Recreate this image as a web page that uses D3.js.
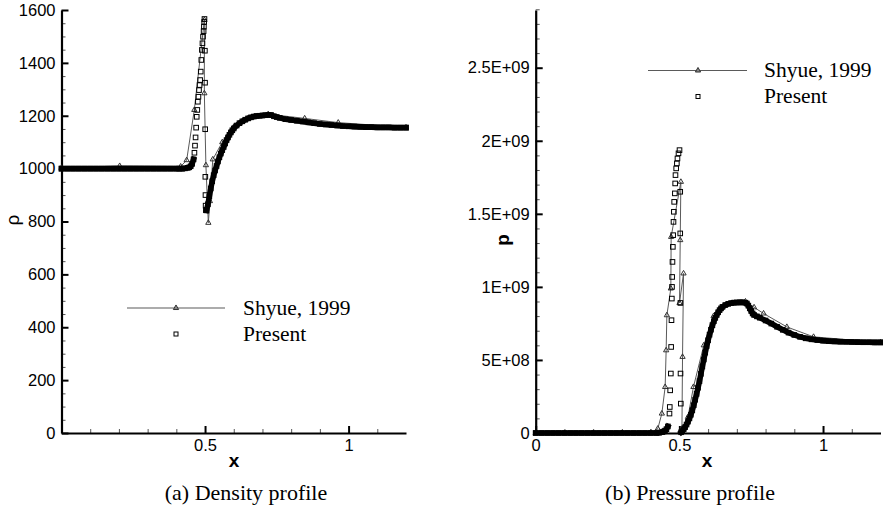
<!DOCTYPE html>
<html>
<head>
<meta charset="utf-8">
<script src="https://cdn.jsdelivr.net/npm/d3@7"></script>
<style>
body { margin: 0; background: #fff; }
svg { font-family: "Liberation Sans", Arial, sans-serif; }
</style>
</head>
<body>
<svg id="chart" width="883" height="515"></svg>
<script>
// (a) density, present scheme
var rhoPresentX = [0,0.02,0.04,0.06,0.08,0.1,0.12,0.14,0.16,0.18,0.2,0.22,0.24,0.26,0.28,0.3,0.32,0.34,0.36,0.38,0.4,
  0.41,0.42,0.43,0.44,0.445,0.45,0.455,0.46,
  0.463,0.465,0.467,0.469,0.471,0.473,0.475,0.477,0.479,0.481,0.483,0.485,0.487,0.489,0.491,0.493,0.495,0.496,0.497,0.498,
  0.4995,0.5,0.5005,0.501,0.5015,0.502,0.503,
  0.505,0.51,0.515,0.52,0.525,0.53,0.535,0.54,0.545,0.55,0.555,0.56,0.565,0.57,0.575,0.58,0.585,0.59,0.595,0.6,
  0.61,0.62,0.63,0.64,0.65,0.66,0.67,0.68,0.69,0.7,0.71,0.72,0.73,0.74,0.75,0.76,
  0.78,0.8,0.82,0.84,0.86,0.88,0.9,0.92,0.94,0.96,0.98,1,1.02,1.04,1.06,1.08,1.1,1.12,1.14,1.16,1.18,1.2];
var rhoPresent = [1000,1000,1000,1000,1000,1000,1000,1000,1000,1000,1000,1000,1000,1000,1000,1000,1000,1000,1000,1000,1000,
  1000,1000,1001,1003,1005,1009,1018,1035,
  1060,1087,1118,1155,1196,1222,1253,1272,1297,1316,1335,1367,1411,1449,1474,1499,1520,1537,1555,1566,
  1446,1325,1149,969,900,860,843,
  842,865,895,925,952,975,993,1010,1027,1043,1057,1070,1082,1095,1108,1118,1128,1137,1145,1152,
  1163,1172,1179,1185,1190,1194,1197,1199,1200,1201,1202,1203,1203,1198,1195,1192,
  1187,1184,1181,1178,1175,1172,1169,1167,1165,1163,1161,1160,1159,1158,1157,1157,1156,1156,1156,1155,1155,1155];

// (a) density, Shyue 1999
var rhoShyueX = [0,0.2027,0.415,0.436,0.4626,0.4976,0.4976,0.503,0.5115,0.517,0.527,0.56,0.6,0.65,0.72,0.847,0.964,1.2];
var rhoShyue = [1003,1010,1008,1032,1222,1562,1285,1013,795,877,1035,1100,1158,1190,1206,1190,1174,1156];

// (b) pressure, present scheme (units of 1E+09)
var pPresentX = [0,0.02,0.04,0.06,0.08,0.1,0.12,0.14,0.16,0.18,0.2,0.22,0.24,0.26,0.28,0.3,0.32,0.34,0.36,0.38,0.4,0.42,
  0.43,0.44,0.445,0.45,0.455,0.46,
  0.4656,0.4666,0.468,0.4703,0.4714,0.4726,0.4738,0.4744,0.4749,0.476,0.4773,0.4784,0.4796,0.4808,0.4819,0.4843,0.4854,0.4865,0.4889,0.4913,0.4934,0.497,0.5005,
  0.503,0.503,0.5035,0.504,0.505,
  0.506,0.51,0.515,0.52,0.525,0.53,0.535,0.54,0.545,0.55,0.555,0.56,0.565,0.57,0.575,0.58,0.585,0.59,0.595,0.6,
  0.605,0.61,0.615,0.62,0.625,0.63,0.635,0.64,0.645,0.65,
  0.66,0.67,0.68,0.69,0.7,0.71,0.72,0.73,0.735,0.74,0.745,0.75,0.755,0.76,0.77,0.78,
  0.8,0.82,0.84,0.86,0.88,0.9,0.92,0.94,0.96,0.98,1,1.02,1.04,1.06,1.08,1.1,1.12,1.14,1.16,1.18,1.2];
var pPresent = [0,0,0,0,0,0,0,0,0,0,0,0,0,0,0,0,0,0,0,0,0,0,
  0.002,0.006,0.01,0.016,0.026,0.045,
  0.133,0.178,0.292,0.407,0.589,0.772,0.92,1.0,1.068,1.171,1.274,1.354,1.445,1.514,1.582,1.64,1.708,1.765,1.811,1.845,1.879,1.914,1.936,
  1.651,1.366,0.89,0.407,0.201,
  0.005,0.012,0.025,0.04,0.058,0.078,0.1,0.125,0.155,0.19,0.228,0.268,0.31,0.355,0.405,0.455,0.503,0.55,0.595,0.635,
  0.673,0.707,0.738,0.765,0.788,0.808,0.826,0.841,0.853,0.863,
  0.876,0.884,0.889,0.892,0.893,0.894,0.894,0.892,0.886,0.872,0.853,0.835,0.818,0.808,0.798,0.789,
  0.77,0.749,0.727,0.706,0.687,0.671,0.658,0.648,0.641,0.636,0.632,0.629,0.627,0.625,0.624,0.623,0.622,0.621,0.621,0.62,0.62];

// (b) pressure, Shyue 1999
var pShyueX = [0,0.1,0.2,0.3,0.4,0.425,0.439,0.4505,0.454,0.4565,0.4703,0.4714,0.5052,0.503,0.5005,0.5145,0.511,0.509,
  0.53,0.549,0.585,0.619,0.685,0.73,0.76,0.793,0.874,0.967,1.2];
var pShyue = [0,0,0,0,0.003,0.03,0.133,0.315,0.566,0.806,0.989,1.342,1.719,1.32,0.89,1.092,0.521,0.03,
  0.11,0.315,0.6,0.8,0.89,0.9,0.86,0.818,0.726,0.658,0.62];

var rhoTicks = [0,200,400,600,800,1000,1200,1400,1600];
var pTicks = [0,0.5,1,1.5,2,2.5];
var pTickLabels = ['0','5E+08','1E+09','1.5E+09','2E+09','2.5E+09'];
var seriesNames = ['Shyue, 1999', 'Present'];
var captions = ['(a) Density profile', '(b) Pressure profile'];

var svg = d3.select('#chart');
var tri = d3.symbol().type(d3.symbolTriangle).size(12);
var serif = '"Liberation Serif", "Times New Roman", serif';
var sans = '"Liberation Sans", Arial, sans-serif';
var y0 = 433, yTop = 10;

function pairs(xs, ys) {
  return xs.map(function(d, i) { return [d, ys[i]]; });
}

function range(a, b, s) {
  var out = [];
  for (var i = 0; a + i * s <= b + 1e-9; i++) out.push(+(a + i * s).toFixed(6));
  return out;
}

function drawPanel(p) {
  var g = svg.append('g');
  var x = d3.scaleLinear().domain([0, 1.2]).range(p.xRange);
  var y = d3.scaleLinear().domain(p.yDomain).range([y0, yTop]);
  var left = p.xRange[0];

  // minor ticks
  var minorX = range(0.1, 1.1, 0.1).filter(function(v) { return v !== 0.5 && v !== 1; });
  var mx = g.append('g').attr('transform', 'translate(0,' + y0 + ')')
    .call(d3.axisBottom(x).tickValues(minorX).tickSize(-4).tickFormat(''));
  var my = g.append('g').attr('transform', 'translate(' + left + ',0)')
    .call(d3.axisLeft(y).tickValues(p.minorY).tickSize(-4).tickFormat(''));
  [mx, my].forEach(function(a) {
    a.select('.domain').remove();
    a.selectAll('line').attr('stroke', '#555').attr('stroke-width', 1);
  });

  var ax = g.append('g').attr('transform', 'translate(0,' + y0 + ')')
    .call(d3.axisBottom(x).tickValues(p.xTicks).tickSize(-7).tickPadding(6).tickSizeOuter(0)
      .tickFormat(d3.format('')));
  var ay = g.append('g').attr('transform', 'translate(' + left + ',0)')
    .call(d3.axisLeft(y).tickValues(p.yTicks).tickSize(-7).tickPadding(6).tickSizeOuter(0)
      .tickFormat(function(d, i) { return p.yLabels[i]; }));
  [ax, ay].forEach(function(a) {
    a.attr('font-size', 16.5).attr('font-family', sans);
    a.select('.domain').attr('stroke', '#000').attr('stroke-width', 2.2);
    a.selectAll('.tick line').attr('stroke', '#000').attr('stroke-width', 2);
    a.selectAll('.tick text').attr('fill', '#000');
  });

  // axis titles
  g.append('text').attr('x', p.xTitleX).attr('y', 467).attr('text-anchor', 'middle')
    .attr('font-family', sans).attr('font-size', 19).attr('font-weight', 'bold').text('x');
  g.append('text').attr('transform', 'translate(' + p.yTitle[0] + ',' + p.yTitle[1] + ') rotate(-90)')
    .attr('text-anchor', 'middle').attr('dy', '0.3em').attr('font-family', sans)
    .attr('font-size', 19).attr('font-weight', p.yTitleBold ? 'bold' : 'normal').text(p.yTitleText);

  // Shyue, 1999
  var ref = p.shyue.map(function(d) { return [x(d[0]), y(d[1])]; });
  g.append('path').attr('d', d3.line()(ref))
    .attr('fill', 'none').attr('stroke', '#5a5a5a').attr('stroke-width', 1);
  g.selectAll('.tri').data(ref).enter().append('path')
    .attr('class', 'tri')
    .attr('transform', function(d) { return 'translate(' + d[0] + ',' + d[1] + ')'; })
    .attr('d', tri).attr('fill', 'none').attr('stroke', '#333').attr('stroke-width', 1);

  // Present: dense squares merge into a thick band where they are close together
  var pts = p.present.map(function(d) { return [x(d[0]), y(d[1])]; });
  var segs = [], cur = [pts[0]];
  for (var i = 1; i < pts.length; i++) {
    var dx = Math.abs(pts[i][0] - pts[i - 1][0]);
    var dy = Math.abs(pts[i][1] - pts[i - 1][1]);
    if (dx > 1.1 && Math.sqrt(dx * dx + dy * dy) < 9) cur.push(pts[i]);
    else { segs.push(cur); cur = [pts[i]]; }
  }
  segs.push(cur);
  g.selectAll('.band').data(segs.filter(function(s) { return s.length > 1; })).enter()
    .append('path').attr('class', 'band')
    .attr('d', d3.line())
    .attr('fill', 'none').attr('stroke', '#000').attr('stroke-width', 5.6)
    .attr('stroke-linecap', 'square').attr('stroke-linejoin', 'round');
  g.selectAll('.sq').data(pts).enter().append('rect')
    .attr('class', 'sq')
    .attr('x', function(d) { return d[0] - 2.3; })
    .attr('y', function(d) { return d[1] - 2.3; })
    .attr('width', 4.6).attr('height', 4.6)
    .attr('fill', 'none').attr('stroke', '#000').attr('stroke-width', 1);

  // legend
  var lg = p.legend;
  g.append('line').attr('x1', lg.x1).attr('x2', lg.x2).attr('y1', lg.y).attr('y2', lg.y)
    .attr('stroke', '#5a5a5a').attr('stroke-width', 1.2);
  g.append('path').attr('transform', 'translate(' + lg.mx + ',' + lg.y + ')')
    .attr('d', tri).attr('fill', '#888').attr('stroke', '#333').attr('stroke-width', 1);
  g.append('rect').attr('x', lg.mx - 2).attr('y', lg.y + 26 - 2).attr('width', 4).attr('height', 4)
    .attr('fill', 'none').attr('stroke', '#000').attr('stroke-width', 1);
  g.selectAll('.lgt').data(seriesNames).enter().append('text')
    .attr('class', 'lgt')
    .attr('x', lg.tx).attr('y', function(d, i) { return lg.y + 6.5 + i * 26; })
    .attr('font-family', serif).attr('font-size', 21.5).text(function(d) { return d; });

  g.append('text').attr('x', p.captionX).attr('y', 500).attr('text-anchor', 'middle')
    .attr('font-family', serif).attr('font-size', 22).text(p.caption);
}

drawPanel({
  xRange: [61.5, 406],
  xTicks: [0.5, 1],
  yDomain: [0, 1600],
  yTicks: rhoTicks,
  yLabels: rhoTicks.map(String),
  minorY: range(0, 1600, 50).filter(function(v) { return v % 200 !== 0; }),
  xTitleX: 234,
  yTitle: [13, 220],
  yTitleText: 'ρ',
  yTitleBold: false,
  shyue: pairs(rhoShyueX, rhoShyue),
  present: pairs(rhoPresentX, rhoPresent),
  legend: { x1: 127, x2: 225, y: 308, mx: 176, tx: 243 },
  caption: captions[0],
  captionX: 246
});

drawPanel({
  xRange: [535.7, 880.5],
  xTicks: [0, 0.5, 1],
  yDomain: [0, 2.895],
  yTicks: pTicks,
  yLabels: pTickLabels,
  minorY: range(0, 2.9, 0.1).filter(function(v) { return Math.round(v * 10) % 5 !== 0; }),
  xTitleX: 707,
  yTitle: [503, 240],
  yTitleText: 'p',
  yTitleBold: true,
  shyue: pairs(pShyueX, pShyue),
  present: pairs(pPresentX, pPresent),
  legend: { x1: 648, x2: 747, y: 70.5, mx: 698, tx: 764 },
  caption: captions[1],
  captionX: 690
});
</script>
</body>
</html>
